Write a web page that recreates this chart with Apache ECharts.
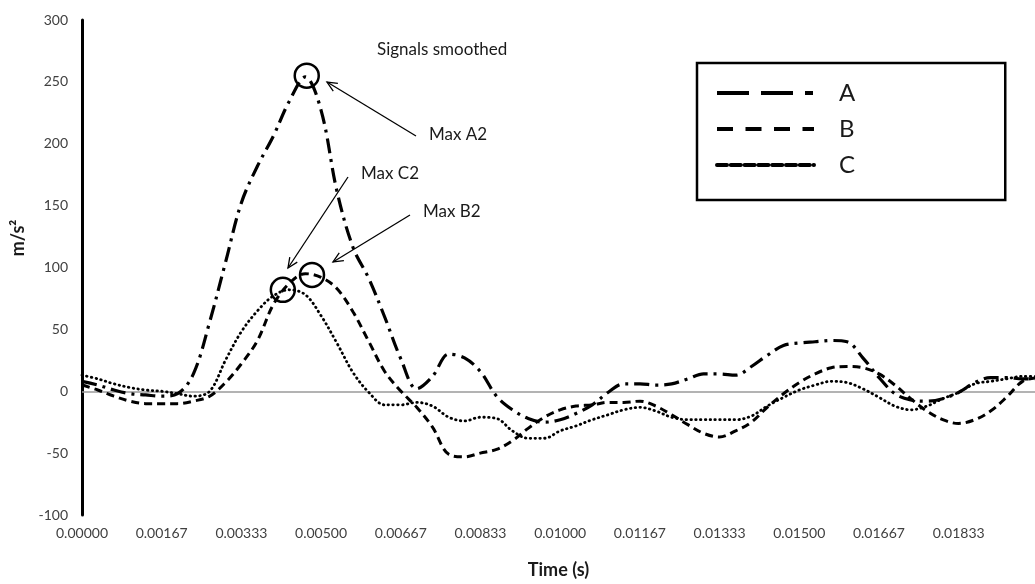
<!DOCTYPE html>
<html><head><meta charset="utf-8">
<script src="https://cdn.jsdelivr.net/npm/echarts@6/dist/echarts.min.js"></script>
<style>html,body{margin:0;padding:0;background:#fff}#c{width:1035px;height:584px}</style>
</head><body><div id="c"></div>
<script>
// time samples (s)
const times = [0.00000,0.00033,0.00067,0.00100,0.00133,0.00167,0.00200,0.00233,0.00267,0.00300,
  0.00333,0.00367,0.00400,0.00433,0.00467,0.00500,0.00533,0.00567,0.00600,0.00633,
  0.00667,0.00700,0.00733,0.00767,0.00800,0.00833,0.00867,0.00900,0.00933,0.00967,
  0.01000,0.01033,0.01067,0.01100,0.01133,0.01167,0.01200,0.01233,0.01267,0.01300,
  0.01333,0.01367,0.01400,0.01433,0.01467,0.01500,0.01533,0.01567,0.01600,0.01633,
  0.01667,0.01700,0.01733,0.01767,0.01800,0.01833,0.01867,0.01900,0.01933,0.01967,0.02000];
const seriesA = [8,5,1,-2,-3,-4,-2,14,56,104,
  152,182,206,234,254,227,162,116,91,60,
  26,2,12,30,27,16,-4,-15,-22,-25,
  -23,-18,-11,-1,6,6,5,6,10,14,
  14,13,20,29,37,39,40,41,40,27,
  11,-2,-7,-8,-6,-1,7,11,11,10,10];
const seriesB = [5,1,-4,-8,-10,-10,-10,-8,-4,7,
  22,41,70,87,95,92,83,64,40,16,
  0,-13,-29,-51,-53,-50,-47,-40,-30,-21,
  -15,-12,-11,-9,-9,-8,-12,-19,-27,-34,
  -37,-32,-25,-13,-2,7,14,19,20,19,
  14,5,-6,-16,-23,-26,-23,-16,-5,8,11];
const seriesC = [13,10,6,3,1,0,-2,-4,0,25,
  48,65,77,82,78,61,39,15,-1,-11,
  -11,-9,-12,-21,-24,-21,-22,-32,-38,-38,
  -32,-28,-23,-19,-15,-13,-16,-21,-23,-23,
  -23,-23,-20,-12,-5,1,5,8,7,2,
  -5,-12,-15,-12,-6,-1,6,8,10,12,12];
const seriesNames = ['A','B','C'];
const yTicks = {min:-100, max:300, interval:50};
const xTicks = {min:0, max:0.01993, interval:1/600};
// annotated maxima [time, value]
const peakA2 = [0.00470, 255];
const peakB2 = [0.00481, 94];
const peakC2 = [0.00420, 82];

const FONT = 'Lato, "Noto Sans", sans-serif';
const chart = echarts.init(document.getElementById('c'));
const pair = arr => times.map((t,i)=>[t, arr[i]]);
const circ = p => ({
  symbol:'circle', symbolSize:24, silent:true,
  itemStyle:{color:'rgba(0,0,0,0)', borderColor:'#000', borderWidth:2.5},
  label:{show:false}, data:[{coord:p}]
});

function arrow(x1,y1,x2,y2){
  const a = Math.atan2(y2-y1, x2-x1), L = 11, s = 0.42;
  const p1 = [x2 - L*Math.cos(a-s), y2 - L*Math.sin(a-s)];
  const p2 = [x2 - L*Math.cos(a+s), y2 - L*Math.sin(a+s)];
  return [
    {type:'line', shape:{x1,y1,x2,y2}, style:{stroke:'#000', lineWidth:1.3}, z:50},
    {type:'polyline', shape:{points:[p1,[x2,y2],p2]}, style:{stroke:'#000', lineWidth:1.3, fill:null}, z:50}
  ];
}
const txt = (t,x,y,size,extra) => Object.assign({type:'text', x, y, z:50,
  style:{text:t, font:size+'px '+FONT, fill:'#1a1a1a', align:'left', verticalAlign:'middle'}}, extra||{});

chart.setOption({
  animation:false,
  backgroundColor:'#fff',
  grid:{left:82, right:0, top:20, bottom:64},
  xAxis:{type:'value', min:xTicks.min, max:xTicks.max, interval:xTicks.interval,
    axisLine:{show:false}, axisTick:{show:false}, splitLine:{show:false},
    axisLabel:{formatter:v=>v.toFixed(5), fontFamily:FONT, fontSize:14, color:'#404040', margin:11, showMaxLabel:false},
    name:'Time (s)', nameLocation:'middle', nameGap:46,
    nameTextStyle:{fontFamily:FONT, fontWeight:'bold', fontSize:18, color:'#1a1a1a'}},
  yAxis:{type:'value', min:yTicks.min, max:yTicks.max, interval:yTicks.interval,
    axisLine:{show:true, lineStyle:{color:'#000', width:3}}, axisTick:{show:false}, splitLine:{show:false},
    axisLabel:{fontFamily:FONT, fontSize:14, color:'#404040', margin:14}},
  legend:{orient:'vertical', left:697, top:63, padding:[18,150,23,18],
    itemWidth:97, itemHeight:20, itemGap:12,
    borderColor:'#000', borderWidth:2.5, backgroundColor:'#fff',
    itemStyle:{opacity:0},
    textStyle:{fontFamily:FONT, fontSize:24, color:'#1a1a1a', padding:[0,0,0,20]},
    data:[
      {name:'A', lineStyle:{type:[32,12,32,12,8,12], width:4, color:'#000'}},
      {name:'B', lineStyle:{type:[16,12.5], width:4, color:'#000'}},
      {name:'C', lineStyle:{type:[10,3.8], width:4, color:'#000'}}
    ]},
  series:[
    {name:seriesNames[0], type:'line', data:pair(seriesA), smooth:0.35, symbol:'none', z:3,
      lineStyle:{color:'#000', width:3.2, type:[15,6,3,6]},
      markPoint:circ(peakA2),
      markLine:{silent:true, symbol:'none', label:{show:false}, z:1,
        lineStyle:{color:'#9a9a9a', width:1.5, type:'solid'}, data:[{yAxis:0}]}},
    {name:seriesNames[1], type:'line', data:pair(seriesB), smooth:0.35, symbol:'none', z:3,
      lineStyle:{color:'#000', width:3, type:[8,5]},
      markPoint:circ(peakB2)},
    {name:seriesNames[2], type:'line', data:pair(seriesC), smooth:0.35, symbol:'none', z:3,
      lineStyle:{color:'#000', width:2.8, type:[0.5,4.3], cap:'round'},
      markPoint:circ(peakC2)}
  ],
  graphic:[].concat(
    [txt('Signals smoothed',377,50,17), txt('Max A2',429,135,17), txt('Max C2',361,174,17), txt('Max B2',423,212,17),
     {type:'text', x:18, y:238, rotation:Math.PI/2, z:50,
      style:{text:'m/s²', font:'bold 18px '+FONT, fill:'#1a1a1a', align:'center', verticalAlign:'middle'}}],
    arrow(416,136,327,82), arrow(348,177,288,268), arrow(410,215,333,262)
  )
});
</script></body></html>
